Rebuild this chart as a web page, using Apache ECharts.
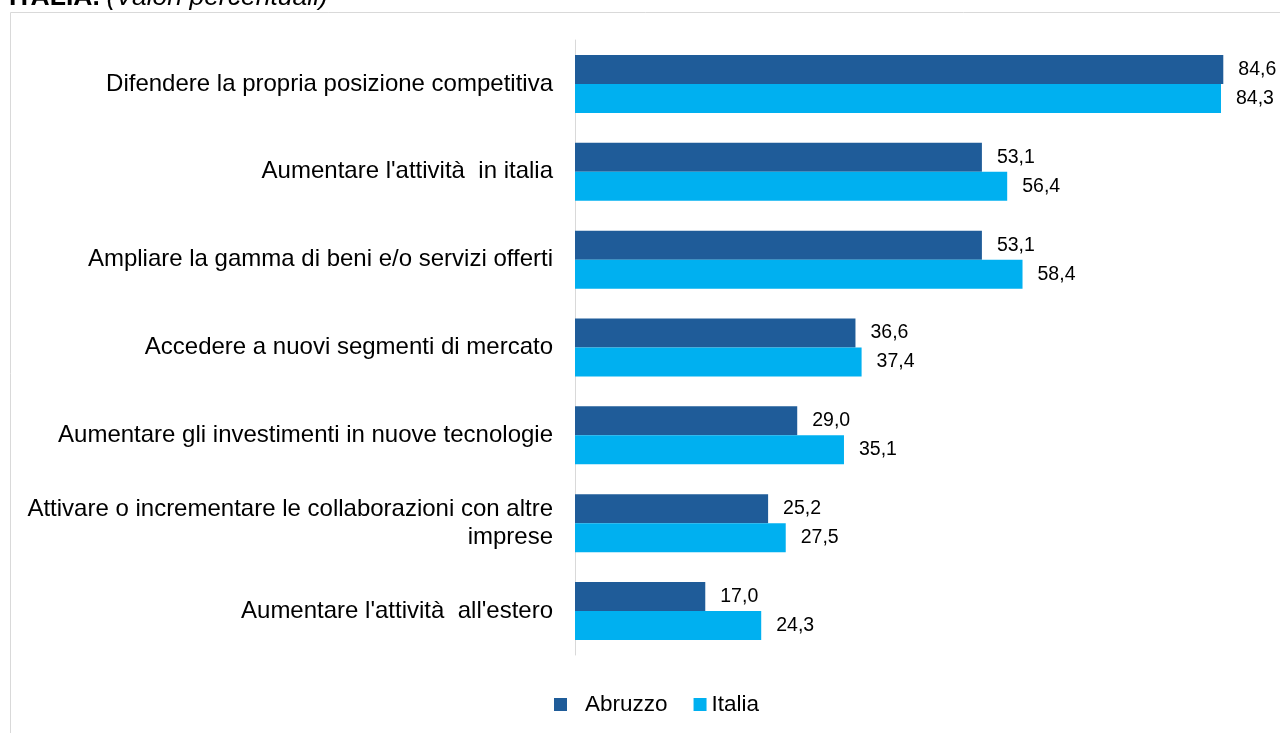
<!DOCTYPE html>
<html><head><meta charset="utf-8">
<script src="https://cdn.jsdelivr.net/npm/echarts@6/dist/echarts.min.js"></script>
<style>html,body{margin:0;padding:0;background:#fff}#c{width:1280px;height:733px}</style>
</head><body><div id="c"></div>
<script>
const categories = [
  "Difendere la propria posizione competitiva",
  "Aumentare l'attività  in italia",
  "Ampliare la gamma di beni e/o servizi offerti",
  "Accedere a nuovi segmenti di mercato",
  "Aumentare gli investimenti in nuove tecnologie",
  "Attivare o incrementare le collaborazioni con altre\nimprese",
  "Aumentare l'attività  all'estero"
];
const abruzzo = [84.6, 53.1, 53.1, 36.6, 29.0, 25.2, 17.0];
const italia  = [84.3, 56.4, 58.4, 37.4, 35.1, 27.5, 24.3];
const seriesNames = ["Abruzzo", "Italia"];

const FF = 'Liberation Sans, Arial, sans-serif';
const chart = echarts.init(document.getElementById('c'), null, {renderer: 'canvas'});
const fmt = p => p.value.toFixed(1).replace('.', ',');
const lbl = {show: true, position: 'right', distance: 15, formatter: fmt, color: '#000', fontSize: 19.5, fontFamily: FF};
chart.setOption({
  animation: false,
  textStyle: {fontFamily: FF},
  graphic: [
    {type: 'rect', shape: {x: 10.5, y: 12.5, width: 1400, height: 900}, style: {fill: 'none', stroke: '#d9d9d9', lineWidth: 1}, z: -1},
    {type: 'text', left: 9, top: -15.5, style: {
      text: '{b|ITALIA.}  {i|(Valori percentuali)}',
      rich: {
        b: {fontWeight: 'bold', fontSize: 26.5, fontFamily: FF, fill: '#000'},
        i: {fontStyle: 'italic', fontSize: 26.5, fontFamily: FF, fill: '#000'}
      }
    }}
  ],
  legend: {
    data: [{name: seriesNames[0], textStyle: {padding: [0, 0, 0, 13]}}, {name: seriesNames[1]}],
    bottom: 12, left: 549, itemWidth: 13, itemHeight: 13, itemGap: 26,
    icon: 'rect',
    textStyle: {fontSize: 22.5, color: '#000', fontFamily: FF}
  },
  grid: {left: 575, right: 0, top: 40, bottom: 78, containLabel: false},
  xAxis: {type: 'value', min: 0, max: 92, show: false},
  yAxis: {
    type: 'category', data: categories, inverse: true,
    axisLine: {lineStyle: {color: '#d9d9d9'}}, axisTick: {show: false},
    axisLabel: {fontSize: 24, color: '#000', margin: 22, align: 'right', lineHeight: 28, fontFamily: FF}
  },
  series: [
    {name: seriesNames[0], type: 'bar', data: abruzzo, barWidth: 29, barGap: '0%', itemStyle: {color: '#1F5C99'}, label: lbl},
    {name: seriesNames[1], type: 'bar', data: italia, barWidth: 29, barGap: '0%', itemStyle: {color: '#00B0F0'}, label: lbl}
  ]
});
</script></body></html>
